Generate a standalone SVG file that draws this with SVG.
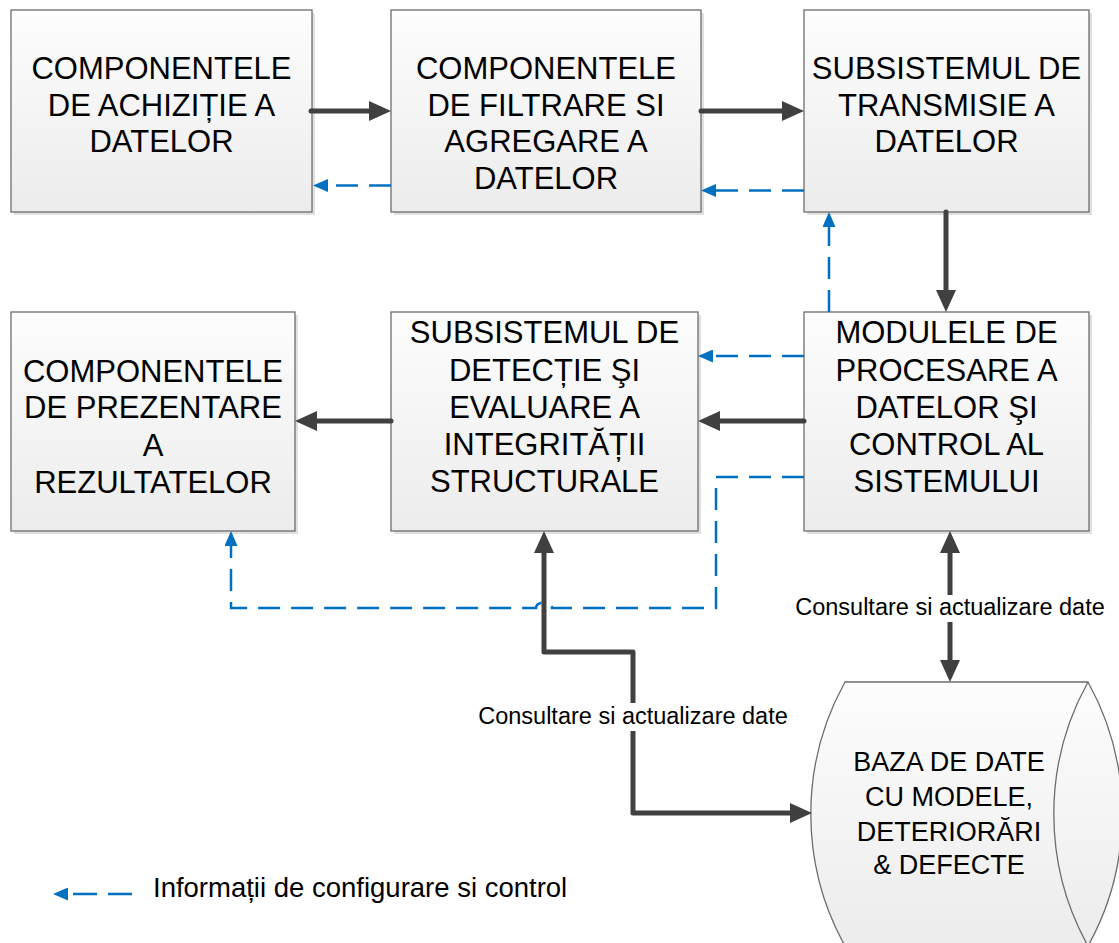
<svg xmlns="http://www.w3.org/2000/svg" width="1119" height="943" viewBox="0 0 1119 943">
  <defs>
    <linearGradient id="boxFill" x1="0" y1="0" x2="0" y2="1">
      <stop offset="0" stop-color="#fdfdfd"/>
      <stop offset="1" stop-color="#ececec"/>
    </linearGradient>
    <marker id="headDark" viewBox="0 0 22 20" refX="0" refY="10" markerWidth="22" markerHeight="20" markerUnits="userSpaceOnUse" orient="auto-start-reverse">
      <path d="M0,0 L22,10 L0,20 Z" fill="#404040"/>
    </marker>
    <marker id="headBlue" viewBox="0 0 15 13" refX="0" refY="6.5" markerWidth="15" markerHeight="13" markerUnits="userSpaceOnUse" orient="auto-start-reverse">
      <path d="M0,0 L15,6.5 L0,13 Z" fill="#0070c0"/>
    </marker>
  </defs>
  <style>
    .shadow { fill: #000; opacity: 0.12; }
    .box { fill: url(#boxFill); stroke: #6d6d6d; stroke-width: 1.3; }
    .label { font-family: "Liberation Sans", Arial, sans-serif; font-size: 31px; fill: #000; text-anchor: middle; }
    .dblabel { font-family: "Liberation Sans", Arial, sans-serif; font-size: 27px; fill: #000; text-anchor: middle; }
    .note { font-family: "Liberation Sans", Arial, sans-serif; font-size: 23.5px; fill: #000; text-anchor: middle; }
    .legend { font-family: "Liberation Sans", Arial, sans-serif; font-size: 27.5px; fill: #000; }
    .flow { fill: none; stroke: #404040; stroke-width: 5; stroke-linecap: round; stroke-linejoin: round; marker-end: url(#headDark); }
    .both { marker-start: url(#headDark); }
    .ctrl { fill: none; stroke: #0070c0; stroke-width: 2.5; stroke-dasharray: 22 11; marker-end: url(#headBlue); }
  </style>

  <rect width="1119" height="943" fill="#ffffff"/>

  <!-- upper row -->
  <g id="achizitie">
    <rect class="shadow" x="14" y="13" width="301" height="202"/>
    <rect class="box" x="11" y="10" width="301" height="202"/>
    <text class="label" x="161.5" y="79">COMPONENTELE</text>
    <text class="label" x="161.5" y="116">DE ACHIZIȚIE A</text>
    <text class="label" x="161.5" y="152">DATELOR</text>
  </g>

  <g id="filtrare">
    <rect class="shadow" x="394" y="13" width="310" height="202"/>
    <rect class="box" x="391" y="10" width="310" height="202"/>
    <text class="label" x="546" y="79">COMPONENTELE</text>
    <text class="label" x="546" y="116">DE FILTRARE SI</text>
    <text class="label" x="546" y="152">AGREGARE A</text>
    <text class="label" x="546" y="189">DATELOR</text>
  </g>

  <g id="transmisie">
    <rect class="shadow" x="807" y="13" width="285" height="202"/>
    <rect class="box" x="804" y="10" width="285" height="202"/>
    <text class="label" x="946.5" y="79">SUBSISTEMUL DE</text>
    <text class="label" x="946.5" y="116">TRANSMISIE A</text>
    <text class="label" x="946.5" y="152">DATELOR</text>
  </g>

  <!-- lower row -->
  <g id="prezentare">
    <rect class="shadow" x="14" y="315" width="284" height="219"/>
    <rect class="box" x="11" y="312" width="284" height="219"/>
    <text class="label" x="153" y="382">COMPONENTELE</text>
    <text class="label" x="153" y="418">DE PREZENTARE</text>
    <text class="label" x="153" y="456">A</text>
    <text class="label" x="153" y="493">REZULTATELOR</text>
  </g>

  <g id="detectie">
    <rect class="shadow" x="394" y="315" width="307" height="219"/>
    <rect class="box" x="391" y="312" width="307" height="219"/>
    <text class="label" x="544.5" y="343">SUBSISTEMUL DE</text>
    <text class="label" x="544.5" y="381">DETECȚIE ŞI</text>
    <text class="label" x="544.5" y="418">EVALUARE A</text>
    <text class="label" x="544.5" y="455">INTEGRITĂȚII</text>
    <text class="label" x="544.5" y="492">STRUCTURALE</text>
  </g>

  <g id="procesare">
    <rect class="shadow" x="807" y="315" width="285" height="219"/>
    <rect class="box" x="804" y="312" width="285" height="219"/>
    <text class="label" x="946.5" y="343">MODULELE DE</text>
    <text class="label" x="946.5" y="381">PROCESARE A</text>
    <text class="label" x="946.5" y="418">DATELOR ŞI</text>
    <text class="label" x="946.5" y="455">CONTROL AL</text>
    <text class="label" x="946.5" y="492">SISTEMULUI</text>
  </g>

  <!-- database drum, its lower edge runs past the bottom of the sheet -->
  <g id="baza-date">
    <path class="box" d="M845,682 H1088 A272 272 0 0 1 1088,946 H845 A272 272 0 0 1 845,682 Z"/>
    <path fill="none" stroke="#6d6d6d" stroke-width="1.3" d="M1088,682 A272 272 0 0 0 1088,946"/>
    <text class="dblabel" x="949" y="771">BAZA DE DATE</text>
    <text class="dblabel" x="949" y="806">CU MODELE,</text>
    <text class="dblabel" x="949" y="841">DETERIORĂRI</text>
    <text class="dblabel" x="949" y="874">&amp; DEFECTE</text>
  </g>

  <!-- connectors -->
  <g id="connectors">
    <!-- data flow -->
    <path class="flow" d="M311,111 H369"/>
    <path class="flow" d="M701,111 H782"/>
    <path class="flow" d="M946,212 V290"/>
    <path class="flow" d="M804,421 H720"/>
    <path class="flow" d="M391,421 H317"/>
    <path class="flow both" d="M544,553 V652 H633 V813 H790"/>
    <path class="flow both" d="M950,553 V660"/>

    <!-- configuration and control -->
    <path class="ctrl" d="M391,185.5 H328"/>
    <path class="ctrl" d="M804,190.5 H716"/>
    <path class="ctrl" d="M829,312 V227"/>
    <path class="ctrl" d="M804,356 H713"/>
    <path class="ctrl" d="M804,477 H716 V608 H552 A8 5.5 0 0 0 536,608 H231 V546"/>

    <!-- connector labels -->
    <g id="label-db-left">
      <rect x="477" y="703" width="312" height="28" fill="#ffffff"/>
      <text class="note" x="633" y="724">Consultare si actualizare date</text>
    </g>
    <g id="label-db-right">
      <rect x="793" y="595" width="314" height="27" fill="#ffffff"/>
      <text class="note" x="950" y="615">Consultare si actualizare date</text>
    </g>
  </g>

  <!-- legend -->
  <g id="legend">
    <path class="ctrl" style="stroke-dasharray: 24 11" d="M132,894 H68"/>
    <text class="legend" x="153" y="897">Informații de configurare si control</text>
  </g>
</svg>
